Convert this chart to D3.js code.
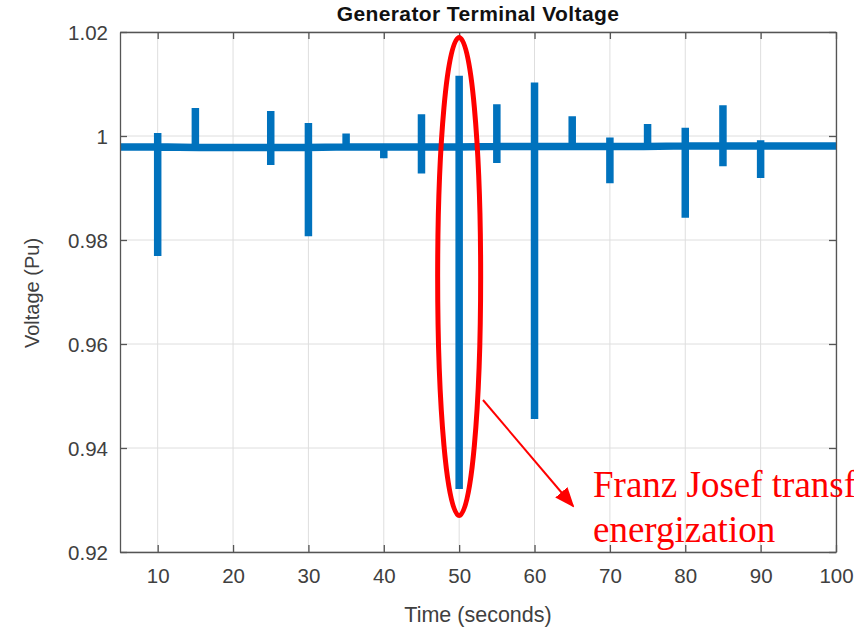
<!DOCTYPE html>
<html>
<head>
<meta charset="utf-8">
<script src="https://cdn.jsdelivr.net/npm/d3@7"></script>
<style>
  body { margin: 0; background: #fff; }
  svg { display: block; font-family: "Liberation Sans", Arial, sans-serif; }
</style>
</head>
<body>
<svg id="chart" width="854" height="630"></svg>
<script>
// spike events
const eventTime = [10, 15, 25, 30, 35, 40, 45, 50, 55, 60, 65, 70, 75, 80, 85, 90];
const eventHigh = [1.0006, 1.0054, 1.0048, 1.0025, 1.0005, 0.9979, 1.0042, 1.0116, 1.0061, 1.0103, 1.0038, 0.9997, 1.0023, 1.0016, 1.0059, 0.9992];
const eventLow  = [0.9769, 0.9978, 0.9944, 0.9807, 0.9978, 0.9957, 0.9928, 0.9321, 0.9948, 0.9456, 0.9980, 0.9909, 0.9980, 0.9843, 0.9942, 0.9919];
// steady level just before each event
const eventBase = [0.9979, 0.9978, 0.9978, 0.9978, 0.9979, 0.9979, 0.9979, 0.9979, 0.9980, 0.9980, 0.9980, 0.9980, 0.9980, 0.9981, 0.9981, 0.9981];
const startLevel = 0.9979, endLevel = 0.9981;
const xTicks = [10, 20, 30, 40, 50, 60, 70, 80, 90, 100];
const yTicks = [0.92, 0.94, 0.96, 0.98, 1, 1.02];

const W = 854, H = 630;
const margin = {top: 32, right: 18, bottom: 78, left: 120};
const svg = d3.select('#chart');

const x = d3.scaleLinear().domain([5, 100]).range([margin.left, W - margin.right]);
const y = d3.scaleLinear().domain([0.92, 1.02]).range([H - margin.bottom, margin.top]);

// build the trace: flat level, then up/down excursion at each event
let pts = [[5, startLevel]];
eventTime.forEach((t, i) => {
    pts.push([t, eventBase[i]]);
    pts.push([t, eventHigh[i]]);
    pts.push([t, eventLow[i]]);
    pts.push([t, eventBase[i]]);
});
pts.push([100, endLevel]);

// grid
const grid = svg.append('g');
grid.selectAll('line.gx').data(xTicks).join('line')
    .attr('x1', d => x(d)).attr('x2', d => x(d))
    .attr('y1', y(0.92)).attr('y2', y(1.02))
    .attr('stroke', '#dedede').attr('stroke-width', 1);
grid.selectAll('line.gy').data(yTicks).join('line')
    .attr('y1', d => y(d)).attr('y2', d => y(d))
    .attr('x1', x(5)).attr('x2', x(100))
    .attr('stroke', '#dedede').attr('stroke-width', 1);

// data trace
svg.append('defs').append('clipPath').attr('id', 'clip')
    .append('rect').attr('x', x(5)).attr('y', y(1.02))
    .attr('width', x(100) - x(5)).attr('height', y(0.92) - y(1.02));
svg.append('path')
    .datum(pts)
    .attr('clip-path', 'url(#clip)')
    .attr('fill', 'none')
    .attr('stroke', '#0072BD')
    .attr('stroke-width', 7.5)
    .attr('stroke-linejoin', 'miter')
    .attr('d', d3.line().x(d => x(d[0])).y(d => y(d[1])));

// axes (MATLAB style box with inward ticks)
const axCol = '#555';
const tickLen = 7;
const gB = svg.append('g').attr('transform', `translate(0,${y(0.92)})`)
    .call(d3.axisBottom(x).tickValues(xTicks).tickSizeInner(-tickLen).tickSizeOuter(0).tickPadding(16));
const gT = svg.append('g').attr('transform', `translate(0,${y(1.02)})`)
    .call(d3.axisTop(x).tickValues(xTicks).tickSizeInner(-tickLen).tickSizeOuter(0).tickFormat(''));
const gL = svg.append('g').attr('transform', `translate(${x(5)},0)`)
    .call(d3.axisLeft(y).tickValues(yTicks).tickSizeInner(-tickLen).tickSizeOuter(0).tickPadding(12)
        .tickFormat(d => d === 1 ? '1' : d3.format('.2f')(d)));
const gR = svg.append('g').attr('transform', `translate(${x(100)},0)`)
    .call(d3.axisRight(y).tickValues(yTicks).tickSizeInner(-tickLen).tickSizeOuter(0).tickFormat(''));
[gB, gT, gL, gR].forEach(g => {
    g.select('.domain').attr('stroke', axCol).attr('stroke-width', 1.3);
    g.selectAll('.tick line').attr('stroke', axCol).attr('stroke-width', 1.3);
    g.selectAll('.tick text').attr('fill', '#404040')
        .style('font-size', '20.5px').style('font-family', '"Liberation Sans", Arial, sans-serif');
});
gL.selectAll('.tick text').attr('dy', '0.36em');

// titles
svg.append('text')
    .attr('x', (x(5) + x(100)) / 2).attr('y', 21)
    .attr('text-anchor', 'middle')
    .style('font-weight', 'bold').style('font-size', '21px').style('letter-spacing', '0.4px')
    .attr('fill', '#111')
    .text('Generator Terminal Voltage');
svg.append('text')
    .attr('x', (x(5) + x(100)) / 2).attr('y', 622)
    .attr('text-anchor', 'middle')
    .style('font-size', '21.5px').attr('fill', '#404040')
    .text('Time (seconds)');
svg.append('text')
    .attr('transform', `translate(39,${(y(0.92) + y(1.02)) / 2 + 1}) rotate(-90)`)
    .attr('text-anchor', 'middle')
    .style('font-size', '20px').attr('fill', '#404040')
    .text('Voltage (Pu)');

// annotation
svg.append('ellipse')
    .attr('cx', x(50)).attr('cy', 276.5)
    .attr('rx', 21.5).attr('ry', 239)
    .attr('fill', 'none').attr('stroke', '#ff0000').attr('stroke-width', 5);

svg.select('defs').append('marker')
    .attr('id', 'arrow').attr('viewBox', '0 0 10 10')
    .attr('refX', 9).attr('refY', 5)
    .attr('markerWidth', 10).attr('markerHeight', 10)
    .attr('markerUnits', 'strokeWidth')
    .attr('orient', 'auto')
    .append('path').attr('d', 'M0,1 L10,5 L0,9 Z').attr('fill', '#ff0000');
svg.append('line')
    .attr('x1', 483).attr('y1', 400)
    .attr('x2', 573).attr('y2', 506)
    .attr('stroke', '#ff0000').attr('stroke-width', 2)
    .attr('marker-end', 'url(#arrow)');

const note = svg.append('text')
    .style('font-family', '"Liberation Serif", "Times New Roman", serif')
    .style('font-size', '37px').attr('fill', '#ff0000');
note.append('tspan').attr('x', 593).attr('y', 497).text('Franz Josef transformer');
note.append('tspan').attr('x', 593).attr('y', 542).text('energization');
</script>
</body>
</html>
